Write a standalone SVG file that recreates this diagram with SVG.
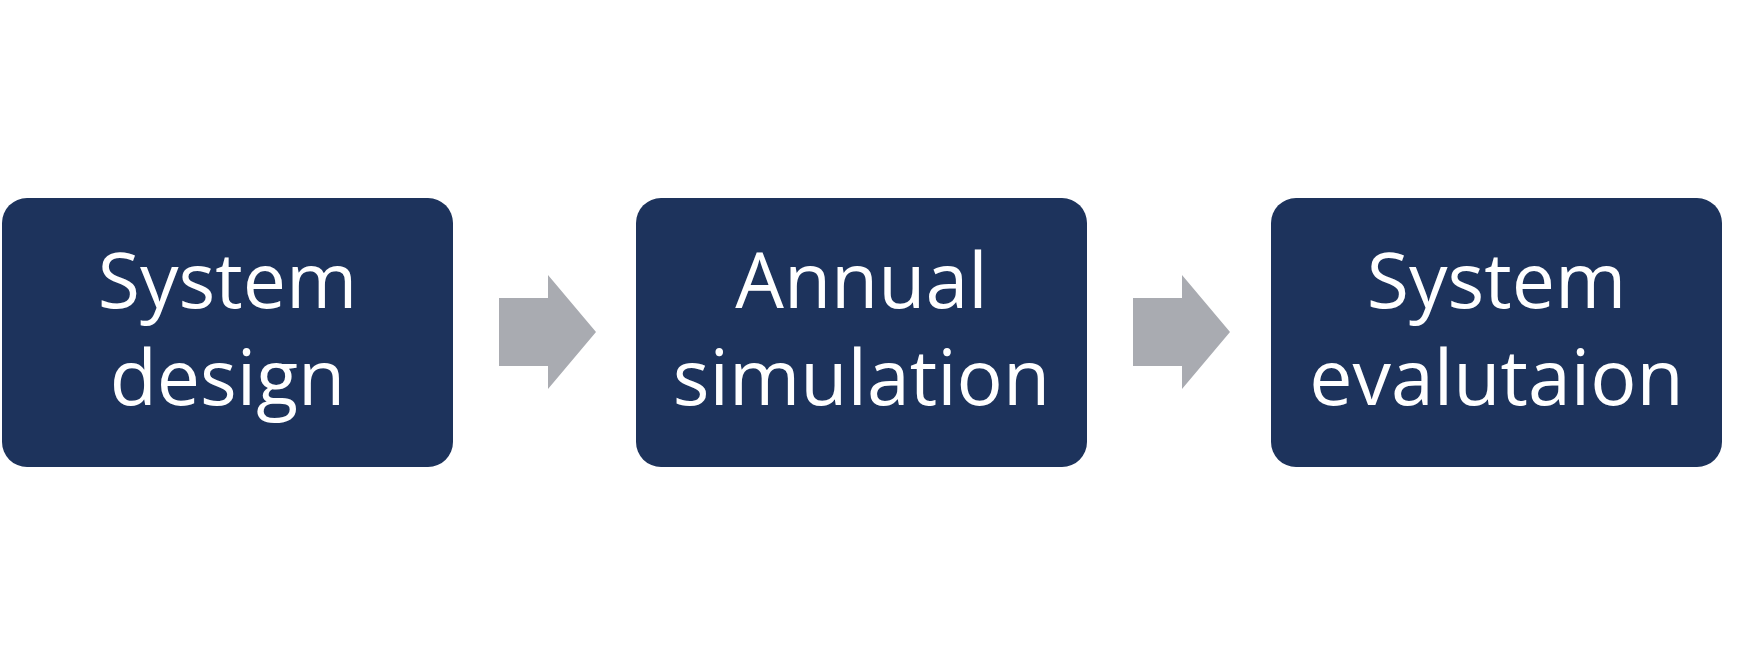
<svg xmlns="http://www.w3.org/2000/svg" width="1742" height="665" viewBox="0 0 1742 665">
<style>
.box{fill:#1D335C}
.lbl{fill:#FFFFFF;font-family:"Open Sans","Noto Sans",sans-serif;font-size:77px;text-anchor:middle}
.arr{fill:#A9ABB1}
</style>
<rect width="1742" height="665" fill="#FFFFFF"/>
<g id="node-design">
<rect class="box" x="2" y="198" width="451" height="269" rx="25" ry="25"/>
<text class="lbl" x="227.5" y="308">System</text>
<text class="lbl" x="227.5" y="405">design</text>
</g>
<g id="node-simulation">
<rect class="box" x="636" y="198" width="451" height="269" rx="25" ry="25"/>
<text class="lbl" x="861.5" y="308">Annual</text>
<text class="lbl" x="861.5" y="405">simulation</text>
</g>
<g id="node-evaluation">
<rect class="box" x="1271" y="198" width="451" height="269" rx="25" ry="25"/>
<text class="lbl" x="1496.5" y="308">System</text>
<text class="lbl" x="1496.5" y="405">evalutaion</text>
</g>
<g id="connectors">
<polygon class="arr" points="499,298 548,298 548,275 596,332 548,389 548,366 499,366"/>
<polygon class="arr" points="1133,298 1182,298 1182,275 1230,332 1182,389 1182,366 1133,366"/>
</g>
</svg>
